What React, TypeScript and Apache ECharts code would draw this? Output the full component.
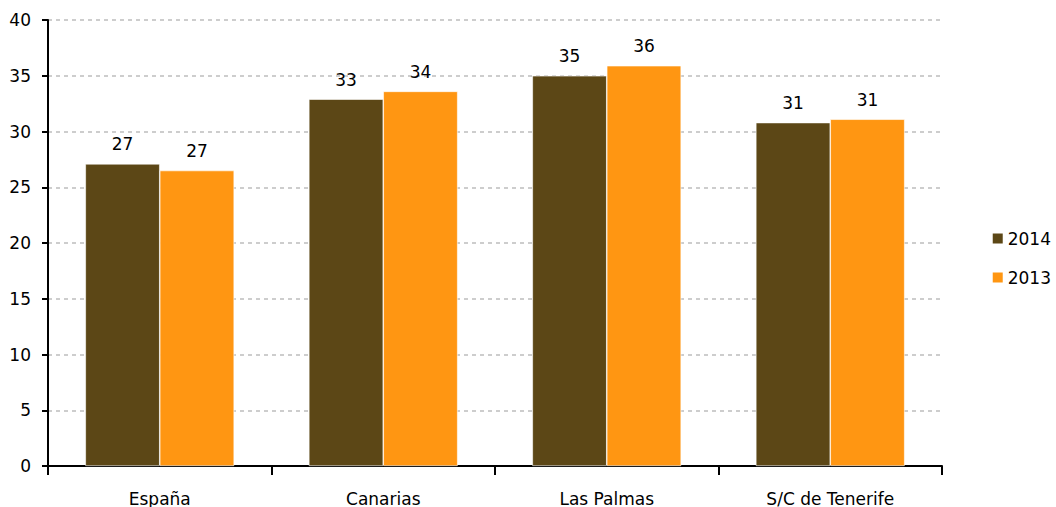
import React, { useEffect, useRef } from "react";
import * as echarts from "echarts";

const categories = ["España", "Canarias", "Las Palmas", "S/C de Tenerife"];
const values2014 = [27.1, 32.9, 35.0, 30.8];
const values2013 = [26.5, 33.6, 35.9, 31.1];
const seriesNames = ["2014", "2013"];
const yTicks = { min: 0, max: 40, interval: 5 };

const FONT = "DejaVu Sans";

export default function App() {
  const ref = useRef<HTMLDivElement>(null);
  useEffect(() => {
    if (!ref.current) return;
    const chart = echarts.init(ref.current, null, { renderer: "svg" });
    const labelStyle = {
      show: true,
      position: "top" as const,
      distance: 11,
      color: "#000",
      fontFamily: FONT,
      fontSize: 17,
      formatter: (p: any) => Math.round(p.value).toString(),
    };
    chart.setOption({
      animation: false,
      backgroundColor: "#fff",
      grid: { left: 48, right: 114, top: 20, bottom: 40, containLabel: false },
      legend: {
        orient: "vertical",
        right: 0,
        top: 225,
        itemWidth: 12,
        itemHeight: 12,
        itemGap: 22,
        icon: "rect",
        textStyle: { fontFamily: FONT, fontSize: 17, color: "#000", padding: [0, 0, 0, -1] },
        data: seriesNames,
      },
      xAxis: {
        type: "category",
        data: categories,
        axisLine: { lineStyle: { color: "#000", width: 2 } },
        axisTick: { show: true, length: 9, lineStyle: { color: "#000", width: 2 }, alignWithLabel: false },
        axisLabel: { fontFamily: FONT, fontSize: 17, color: "#000", margin: 24 },
      },
      yAxis: {
        type: "value",
        min: yTicks.min,
        max: yTicks.max,
        interval: yTicks.interval,
        axisLine: { show: true, lineStyle: { color: "#000", width: 2 } },
        axisTick: { show: true, length: 6, lineStyle: { color: "#000", width: 2 } },
        axisLabel: { fontFamily: FONT, fontSize: 17, color: "#000", margin: 17 },
        splitLine: { show: true, lineStyle: { color: "#bdbdbd", type: [4, 4], width: 1.5 } },
      },
      series: [
        {
          name: seriesNames[0],
          type: "bar",
          data: values2014,
          barWidth: "33.3%",
          barGap: "0%",
          itemStyle: { color: "#5C4716", borderColor: "#fff", borderWidth: 0.6 },
          label: labelStyle,
        },
        {
          name: seriesNames[1],
          type: "bar",
          data: values2013,
          barWidth: "33.3%",
          barGap: "0%",
          itemStyle: { color: "#FF9612", borderColor: "#fff", borderWidth: 0.6 },
          label: labelStyle,
        },
      ],
    });
    return () => chart.dispose();
  }, []);
  return (
    <div
      ref={ref}
      style={{ position: "fixed", left: 0, top: 0, width: 1056, height: 507 }}
    />
  );
}
